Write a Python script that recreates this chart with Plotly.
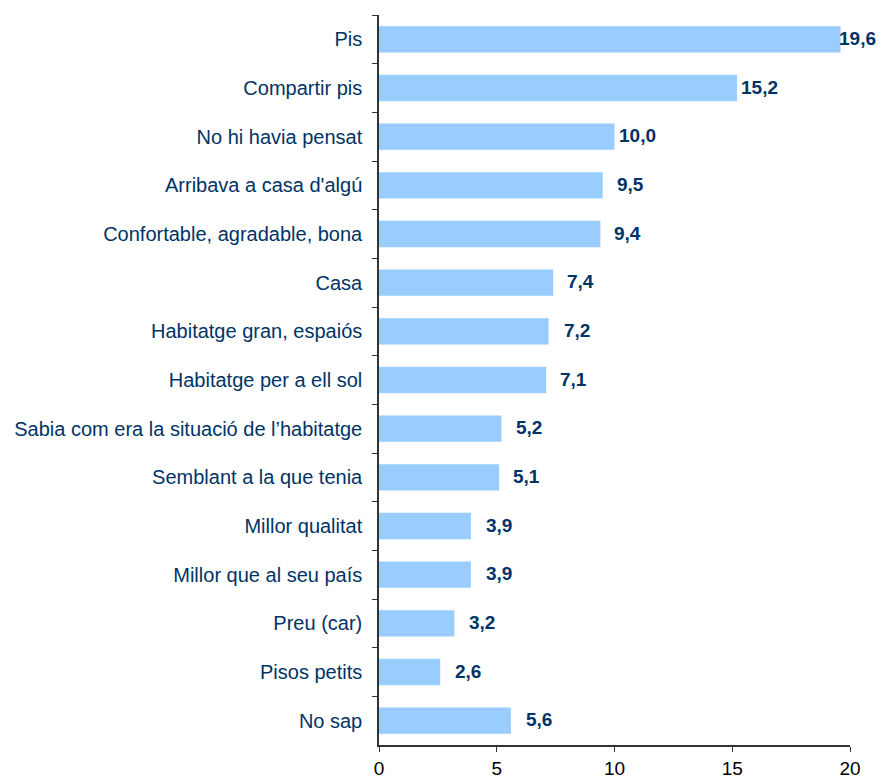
import plotly.graph_objects as go

categories = ["Pis", "Compartir pis", "No hi havia pensat", "Arribava a casa d'algú",
              "Confortable, agradable, bona", "Casa", "Habitatge gran, espaiós",
              "Habitatge per a ell sol", "Sabia com era la situació de l’habitatge",
              "Semblant a la que tenia", "Millor qualitat", "Millor que al seu país",
              "Preu (car)", "Pisos petits", "No sap"]
values = [19.6, 15.2, 10.0, 9.5, 9.4, 7.4, 7.2, 7.1, 5.2, 5.1, 3.9, 3.9, 3.2, 2.6, 5.6]
x_ticks = [0, 5, 10, 15, 20]

labels = [f"{v:.1f}".replace(".", ",") for v in values]
FONT = "Liberation Sans, Arial"

fig = go.Figure(go.Bar(
    y=categories, x=values, orientation="h",
    marker=dict(color="#99CCFF", line=dict(width=0)),
    hoverinfo="skip",
))
vmax = max(values)
for c, v, t in zip(categories, values, labels):
    fig.add_annotation(x=v, y=c, text=f"<b>{t}</b>", showarrow=False,
                       xanchor="right", xshift=37 if v == vmax else 43, yshift=1,
                       font=dict(family=FONT, size=19, color="#003366"))
fig.update_layout(
    width=885, height=773,
    margin=dict(l=371, r=43, t=7, b=36),
    plot_bgcolor="white", paper_bgcolor="white",
    bargap=0.46, showlegend=False,
    font=dict(family=FONT, size=19),
)
fig.update_yaxes(autorange="reversed", showline=True, linecolor="#333333", linewidth=1.5,
                 ticks="outside", tickson="boundaries", ticklen=5, tickcolor="#333333",
                 tickfont=dict(color="#003366", size=20), showgrid=False,
                 ticklabelstandoff=11, automargin=False)
fig.update_xaxes(range=[0, 20], tickvals=x_ticks, showline=True, linecolor="#333333",
                 linewidth=1.5, ticks="outside", ticklen=5, tickcolor="#333333",
                 tickfont=dict(color="black", size=19), showgrid=False, zeroline=False,
                 automargin=False)
fig.write_html("out.html")
